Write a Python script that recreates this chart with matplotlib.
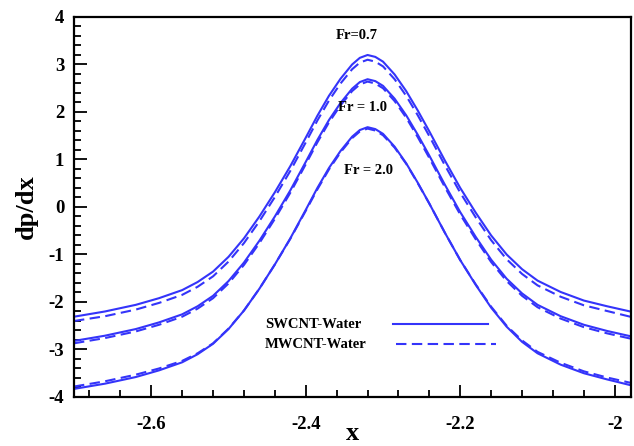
import matplotlib
matplotlib.use("Agg")
import matplotlib.pyplot as plt
from matplotlib.lines import Line2D
from matplotlib.ticker import MultipleLocator, FixedLocator, FixedFormatter

X = [-2.70, -2.66, -2.62, -2.59, -2.56, -2.54, -2.52, -2.50, -2.48, -2.46,
     -2.44, -2.42, -2.40, -2.385, -2.37, -2.355, -2.34, -2.33, -2.32, -2.31,
     -2.30, -2.285, -2.27, -2.255, -2.24, -2.22, -2.20, -2.18, -2.16, -2.14,
     -2.12, -2.10, -2.07, -2.04, -2.01, -1.98]

# SWCNT-Water (solid) and MWCNT-Water (dashed) for three Froude numbers
SW_07 = [-2.31, -2.20, -2.06, -1.92, -1.75, -1.58, -1.36, -1.05, -0.66, -0.20,
         0.31, 0.86, 1.46, 1.92, 2.34, 2.70, 3.00, 3.14, 3.20, 3.16,
         3.06, 2.79, 2.44, 2.03, 1.59, 0.98, 0.40, -0.12, -0.60, -1.00,
         -1.31, -1.55, -1.79, -1.97, -2.09, -2.20]
MW_07 = [-2.40, -2.30, -2.16, -2.02, -1.85, -1.68, -1.46, -1.15, -0.76, -0.30,
         0.21, 0.76, 1.36, 1.82, 2.24, 2.60, 2.90, 3.04, 3.10, 3.06,
         2.96, 2.69, 2.34, 1.93, 1.49, 0.88, 0.30, -0.22, -0.70, -1.10,
         -1.41, -1.65, -1.89, -2.07, -2.19, -2.31]
SW_10 = [-2.82, -2.71, -2.57, -2.43, -2.26, -2.09, -1.87, -1.56, -1.17, -0.71,
         -0.20, 0.35, 0.95, 1.41, 1.83, 2.19, 2.49, 2.63, 2.69, 2.65,
         2.55, 2.28, 1.93, 1.52, 1.08, 0.47, -0.11, -0.63, -1.11, -1.51,
         -1.82, -2.06, -2.30, -2.48, -2.61, -2.72]
MW_10 = [-2.87, -2.76, -2.62, -2.48, -2.31, -2.14, -1.92, -1.61, -1.22, -0.76,
         -0.25, 0.30, 0.90, 1.36, 1.78, 2.14, 2.44, 2.58, 2.64, 2.60,
         2.50, 2.23, 1.88, 1.47, 1.03, 0.42, -0.16, -0.68, -1.16, -1.56,
         -1.87, -2.11, -2.35, -2.53, -2.66, -2.77]
SW_20 = [-3.83, -3.72, -3.58, -3.44, -3.27, -3.10, -2.88, -2.57, -2.18, -1.72,
         -1.21, -0.66, -0.06, 0.40, 0.82, 1.18, 1.48, 1.62, 1.68, 1.64,
         1.54, 1.27, 0.92, 0.51, 0.07, -0.54, -1.12, -1.64, -2.12, -2.52,
         -2.84, -3.08, -3.32, -3.50, -3.63, -3.75]
MW_20 = [-3.78, -3.67, -3.53, -3.40, -3.24, -3.08, -2.87, -2.56, -2.18, -1.72,
         -1.21, -0.67, -0.08, 0.37, 0.79, 1.15, 1.45, 1.59, 1.65, 1.61,
         1.51, 1.25, 0.91, 0.50, 0.07, -0.54, -1.12, -1.63, -2.10, -2.50,
         -2.81, -3.05, -3.28, -3.46, -3.59, -3.70]

FR_LABELS = ["Fr=0.7", "Fr = 1.0", "Fr = 2.0"]
FR_POS = [(-2.334, 3.62), (-2.327, 2.10), (-2.319, 0.76)]

X_TICKS = [-2.6, -2.4, -2.2, -2.0]
X_TICKLABELS = ["-2.6", "-2.4", "-2.2", "-2"]
Y_TICKS = [-4, -3, -2, -1, 0, 1, 2, 3, 4]

LEGEND_LABELS = ["SWCNT-Water", "MWCNT-Water"]

BLUE = "#3434fa"
DASH = (0, (5, 2.6))

plt.rcParams.update({
    "font.family": "serif",
    "font.serif": ["Liberation Serif", "DejaVu Serif"],
    "font.weight": "bold",
    "axes.unicode_minus": False,
})

fig = plt.figure(figsize=(6.34, 4.46), dpi=100)
ax = fig.add_axes([0.1167, 0.1099, 0.8786, 0.852])

for sw, mw in [(SW_07, MW_07), (SW_10, MW_10), (SW_20, MW_20)]:
    ax.plot(X, sw, color=BLUE, lw=1.5)
    ax.plot(X, mw, color=BLUE, lw=1.5, ls=DASH)

for txt, (tx, ty) in zip(FR_LABELS, FR_POS):
    ax.text(tx, ty, txt, ha="center", va="center", fontsize=10.5, fontweight="bold")

ax.set_xlim(-2.70, -1.979)
ax.set_ylim(-4, 4)

ax.xaxis.set_major_locator(FixedLocator(X_TICKS))
ax.xaxis.set_major_formatter(FixedFormatter(X_TICKLABELS))
ax.xaxis.set_minor_locator(MultipleLocator(0.04))
ax.yaxis.set_major_locator(FixedLocator(Y_TICKS))
ax.yaxis.set_minor_locator(MultipleLocator(0.2))

ax.tick_params(which="both", direction="in", top=False, right=False, width=1.3)
ax.tick_params(which="major", length=9, labelsize=13.5, pad=7)
ax.tick_params(axis="x", which="major", pad=14)
ax.tick_params(which="minor", length=5)
for s in ax.spines.values():
    s.set_linewidth(1.6)

ax.set_xlabel("x", fontsize=19, fontweight="bold", labelpad=-8)
ax.set_ylabel("dp/dx", fontsize=19, fontweight="bold", labelpad=8)

# Tecplot-style legend: label on the left, line sample on the right
legend_rows = [
    (LEGEND_LABELS[0], 0.190, "-", (0.573, 0.743)),
    (LEGEND_LABELS[1], 0.137, DASH, (0.578, 0.758)),
]
for label, yy, style, (x0, x1) in legend_rows:
    ax.text(0.343, yy, label, transform=ax.transAxes, ha="left", va="center",
            fontsize=10.5, fontweight="bold")
    ax.add_line(Line2D([x0, x1], [yy + 0.003, yy + 0.003], transform=ax.transAxes,
                       color=BLUE, lw=1.5, ls=style))

fig.savefig("out.png", dpi=100)
